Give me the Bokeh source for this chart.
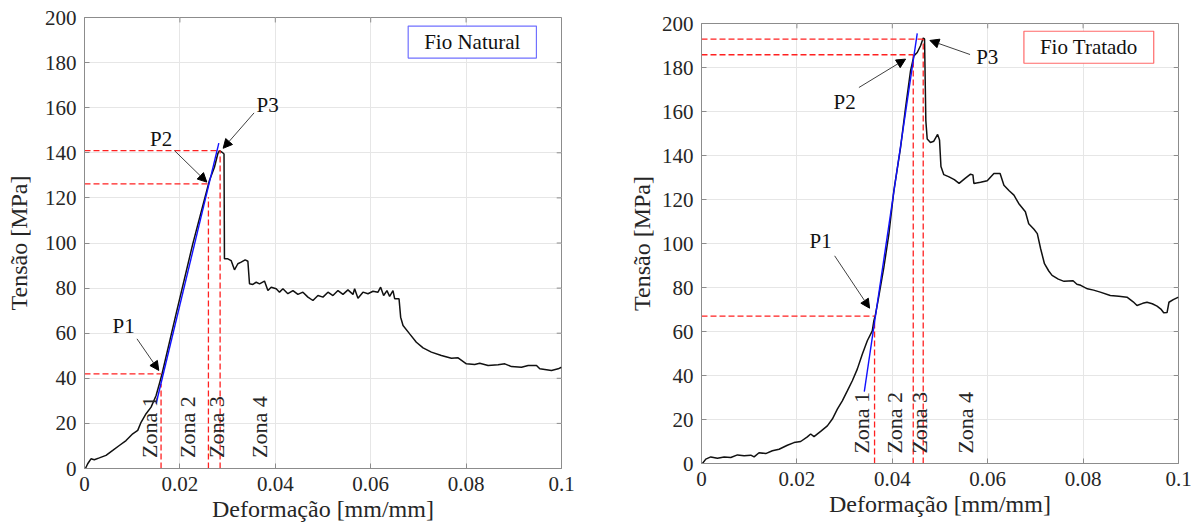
import math
from bokeh.plotting import figure
from bokeh.models import ColumnDataSource, FixedTicker, Arrow, NormalHead, Label
from bokeh.core.properties import value
from bokeh.embed import file_html
from bokeh.resources import INLINE

FONT = "Liberation Serif"

# ---------------- data: Fio Natural ----------------
nat_x = [0.0, 0.0002, 0.00067, 0.00136, 0.00206, 0.00311, 0.00451, 0.00592, 0.0073, 0.00871,
         0.01011, 0.01116, 0.01186, 0.01291, 0.01396, 0.01501, 0.0157, 0.01626, 0.0192, 0.0227,
         0.02619, 0.02724, 0.02795, 0.02829, 0.02879, 0.0291, 0.02925, 0.02934, 0.03005, 0.03074,
         0.03144, 0.03215, 0.03284, 0.03368, 0.03425, 0.03459, 0.0353, 0.036, 0.0367, 0.03773,
         0.03845, 0.03914, 0.04019, 0.04088, 0.0416, 0.04264, 0.0437, 0.04474, 0.04579, 0.04684,
         0.04789, 0.04894, 0.04999, 0.05104, 0.05209, 0.05314, 0.05419, 0.05523, 0.05628, 0.05663,
         0.05733, 0.05838, 0.05943, 0.06048, 0.06153, 0.06208, 0.06271, 0.06341, 0.06397, 0.06467,
         0.06502, 0.06594, 0.06628, 0.06678, 0.06817, 0.06957, 0.07098, 0.07272, 0.07482, 0.07692,
         0.07832, 0.08006, 0.08181, 0.08286, 0.08461, 0.08671, 0.08811, 0.08951, 0.09161, 0.09301,
         0.09476, 0.09545, 0.0979, 0.0993, 0.1]
nat_y = [0.0, 0.0, 2.1, 4.3, 3.9, 4.7, 5.8, 8.0, 10.2, 12.4,
         15.4, 16.9, 20.5, 24.3, 27.2, 32.4, 37.6, 42.0, 68.6, 99.6,
         127.7, 133.6, 139.6, 141.0, 140.3, 139.8, 139.5, 93.0, 93.0, 92.2,
         88.1, 90.8, 91.5, 92.5, 91.9, 81.9, 81.6, 82.6, 81.9, 83.1,
         78.9, 80.4, 79.7, 78.2, 79.7, 77.5, 78.9, 77.2, 78.2, 76.0,
         74.5, 76.7, 76.0, 78.2, 76.7, 78.9, 77.2, 79.2, 77.2, 79.7,
         75.5, 78.2, 77.5, 78.6, 78.2, 80.4, 76.7, 78.9, 76.3, 78.9,
         75.3, 75.3, 67.1, 63.4, 59.7, 56.0, 53.5, 51.6, 50.1, 48.9,
         49.1, 46.4, 46.1, 46.7, 45.7, 46.0, 46.4, 45.2, 44.9, 45.7,
         45.7, 44.2, 43.5, 44.2, 44.9]
nat_fit_x = [0.01501, 0.02816]
nat_fit_y = [28.7, 144.3]
nat_p_x = [0.01605, 0.02598, 0.02843]      # P1, P2, P3 strain
nat_p_y = [42.0, 126.2, 141.0]             # P1, P2, P3 stress
nat_vtop = [37.6, 120.3, 141.0]            # top of vertical dashed lines
nat_plabel_x = [0.0082, 0.01605, 0.0384]
nat_plabel_y = [63.0, 146.2, 161.4]
nat_arrow_x0 = [0.0110, 0.01885, 0.03555]
nat_arrow_y0 = [57.5, 141.0, 157.7]
nat_arrow_x1 = [0.01557, 0.02564, 0.02907]
nat_arrow_y1 = [43.5, 127.0, 142.0]
nat_zona_x = [0.0136, 0.02166, 0.0276, 0.03668]
nat_zona_y = [4.7, 4.7, 4.7, 4.7]

# ---------------- data: Fio Tratado ----------------
tra_x = [0.0, 0.0002, 0.0009, 0.00195, 0.00335, 0.00475, 0.00614, 0.00754, 0.00893, 0.01033,
         0.01103, 0.01206, 0.01346, 0.01486, 0.01626, 0.018, 0.01939, 0.02079, 0.02219, 0.02289,
         0.02359, 0.02498, 0.02638, 0.02743, 0.02848, 0.02952, 0.03057, 0.03162, 0.03266, 0.03371,
         0.03476, 0.0358, 0.03614, 0.03649, 0.03719, 0.03823, 0.03928, 0.04033, 0.04173, 0.04278,
         0.04382, 0.04452, 0.04523, 0.04592, 0.04648, 0.04676, 0.04703, 0.04732, 0.0480, 0.0487,
         0.0495, 0.0499, 0.0502, 0.0508, 0.0519, 0.0530, 0.0540, 0.0552, 0.0564, 0.0569,
         0.0571, 0.0585, 0.0599, 0.0613, 0.0626, 0.0634, 0.0645, 0.0655, 0.0665, 0.0679,
         0.0686, 0.0697, 0.0704, 0.0711, 0.0719, 0.0728, 0.0735, 0.0748, 0.0760, 0.0779,
         0.0787, 0.0795, 0.0809, 0.0822, 0.0836, 0.0857, 0.0875, 0.0892, 0.0905, 0.0913,
         0.0925, 0.0934, 0.0945, 0.0955, 0.0963, 0.0969, 0.0976, 0.0980, 0.0989, 0.1]
tra_y = [0.0, 0.0, 2.0, 3.0, 2.4, 3.0, 2.7, 3.9, 3.5, 3.8,
         3.0, 4.9, 4.5, 5.8, 6.5, 8.3, 9.5, 10.0, 12.1, 13.4,
         12.2, 14.6, 17.1, 20.2, 24.7, 28.5, 33.0, 37.6, 42.9, 49.7,
         55.8, 60.3, 64.9, 67.9, 76.2, 89.1, 104.3, 124.0, 143.6, 161.8,
         178.5, 185.3, 186.8, 189.9, 193.4, 193.0, 155.8, 147.5, 145.9, 146.5,
         149.6, 147.0, 135.0, 131.3, 130.3, 129.0, 127.3, 129.5, 131.5, 131.2,
         127.3, 127.8, 128.5, 131.8, 131.8, 126.5, 124.0, 122.0, 118.2, 114.4,
         109.0, 106.5, 104.5, 97.6, 90.8, 87.5, 85.5, 83.8, 82.8, 83.1,
         81.5, 81.0, 79.4, 78.8, 77.9, 76.4, 76.0, 75.6, 73.5, 71.8,
         72.8, 73.3, 72.6, 71.5, 70.2, 68.5, 68.6, 73.3, 74.5, 75.6]
tra_fit_x = [0.03413, 0.04523]
tra_fit_y = [32.7, 195.5]
tra_p_x = [0.03628, 0.04439, 0.04648]
tra_p_y = [67.0, 185.8, 192.9]
tra_vtop = [64.1, 185.8, 192.9]
tra_plabel_x = [0.02498, 0.0300, 0.0599]
tra_plabel_y = [101.2, 164.1, 184.7]
tra_arrow_x0 = [0.02791, 0.0330, 0.0563]
tra_arrow_y0 = [94.4, 170.9, 185.9]
tra_arrow_x1 = [0.03524, 0.04278, 0.04789]
tra_arrow_y1 = [70.6, 183.8, 192.3]
tra_zona_x = [0.0335, 0.04047, 0.04577, 0.05534]
tra_zona_y = [4.5, 4.5, 4.5, 4.5]

zona_labels = ["Zona 1", "Zona 2", "Zona 3", "Zona 4"]
p_labels = ["P1", "P2", "P3"]
x_ticks = [0, 0.02, 0.04, 0.06, 0.08, 0.1]
x_tick_labels = ["0", "0.02", "0.04", "0.06", "0.08", "0.1"]
y_ticks = [0, 20, 40, 60, 80, 100, 120, 140, 160, 180, 200]
x_title = "Deformação [mm/mm]"
y_title = "Tensão [MPa]"

TXT = "#262626"
FRAME = "#8c8c8c"
X_MIN, X_MAX, Y_MIN, Y_MAX = 0.0, 0.1, 0.0, 200.0
TICK_DX, TICK_DY = 0.001, 2.2   # inward tick length (~5 px) for the top / right box ticks


def style_axis(ax):
    ax.axis_line_color = FRAME
    ax.major_tick_line_color = FRAME
    ax.minor_tick_line_color = None
    ax.major_tick_in = 5
    ax.major_tick_out = 0
    ax.major_label_text_font = FONT
    ax.major_label_text_font_size = "21px"
    ax.major_label_text_color = TXT
    ax.major_label_standoff = 8
    ax.axis_label_text_font = FONT
    ax.axis_label_text_font_size = "24px"
    ax.axis_label_text_font_style = "normal"
    ax.axis_label_text_color = TXT
    ax.axis_label_standoff = 2


def make_panel(cx, cy, fx, fy, px, py, vtop, plx, ply, ax0, ay0, ax1, ay1,
               zx, zy, legend_text, legend_color, legend_xy, borders, fheight, ylab_standoff):
    p = figure(frame_width=477, frame_height=fheight, x_range=(X_MIN, X_MAX), y_range=(Y_MIN, Y_MAX),
               output_backend="svg", toolbar_location=None, title=None,
               min_border_left=borders[0], min_border_right=borders[1],
               min_border_top=borders[2], min_border_bottom=borders[3],
               background_fill_color="white", border_fill_color="white")
    p.styles = {"float": "left"}
    p.outline_line_color = FRAME
    p.xaxis.ticker = FixedTicker(ticks=x_ticks)
    p.xaxis.major_label_overrides = {t: s for t, s in zip(x_ticks, x_tick_labels)}
    p.yaxis.ticker = FixedTicker(ticks=y_ticks)
    p.xaxis.axis_label = x_title
    p.yaxis.axis_label = y_title
    style_axis(p.xaxis[0])
    style_axis(p.yaxis[0])
    p.yaxis[0].axis_label_standoff = ylab_standoff
    p.xgrid.ticker = FixedTicker(ticks=x_ticks)
    p.ygrid.ticker = FixedTicker(ticks=y_ticks)
    p.grid.grid_line_color = "#e6e6e6"
    p.grid.grid_line_width = 1

    # box ticks on the top and right edges (MATLAB "box on")
    p.segment(x0=x_ticks, y0=[Y_MAX] * len(x_ticks), x1=x_ticks,
              y1=[Y_MAX - TICK_DY] * len(x_ticks), line_color=FRAME, line_width=1)
    p.segment(x0=[X_MAX] * len(y_ticks), y0=y_ticks, x1=[X_MAX - TICK_DX] * len(y_ticks),
              y1=y_ticks, line_color=FRAME, line_width=1)

    # curve
    p.line(cx, cy, line_color="#111111", line_width=1.5)
    # red dashed guides
    zeros = [0.0] * len(px)
    p.segment(x0=zeros, y0=py, x1=px, y1=py, line_color="#ff2020", line_width=1.3, line_dash="6 3")
    p.segment(x0=px, y0=zeros, x1=px, y1=vtop, line_color="#ff2020", line_width=1.3, line_dash="6 3")
    # fitted line
    p.line(fx, fy, line_color="#1010ff", line_width=1.4)
    # zone labels
    p.text(x=zx, y=zy, text=zona_labels, angle=math.pi / 2, text_font=value(FONT),
           text_font_size="22px", text_color=TXT, text_align="left", text_baseline="middle")
    # P labels
    p.text(x=plx, y=ply, text=p_labels, text_font=value(FONT), text_font_size="21px",
           text_color="#111111", text_align="center", text_baseline="middle")
    asrc = ColumnDataSource(dict(x0=ax0, y0=ay0, x1=ax1, y1=ay1))
    p.add_layout(Arrow(end=NormalHead(size=9, fill_color="black", line_color="black", line_width=1),
                       x_start="x0", y_start="y0", x_end="x1", y_end="y1", source=asrc,
                       line_color="#404040", line_width=1))
    lab = Label(x=legend_xy[0], y=legend_xy[1], text=legend_text, text_font=FONT,
                text_font_size="21px", text_color="#111111", text_align="center",
                text_baseline="middle", border_line_color=legend_color, border_line_width=1.2,
                background_fill_color="white", padding=(16, 4))
    p.add_layout(lab)
    return p


p1 = make_panel(nat_x, nat_y, nat_fit_x, nat_fit_y, nat_p_x, nat_p_y, nat_vtop,
                nat_plabel_x, nat_plabel_y, nat_arrow_x0, nat_arrow_y0, nat_arrow_x1, nat_arrow_y1,
                nat_zona_x, nat_zona_y, "Fio Natural", "#7070ff", (0.0813, 189.1),
                (84, 39, 17, 59), 451, 10)
p2 = make_panel(tra_x, tra_y, tra_fit_x, tra_fit_y, tra_p_x, tra_p_y, tra_vtop,
                tra_plabel_x, tra_plabel_y, tra_arrow_x0, tra_arrow_y0, tra_arrow_x1, tra_arrow_y1,
                tra_zona_x, tra_zona_y, "Fio Tratado", "#ff6a6a", (0.0812, 189.2),
                (101, 22, 23, 64), 440, 4)

# two independent roots floated side by side, so each panel keeps its own frame position
open("out.html", "w").write(file_html([p1, p2], INLINE))
